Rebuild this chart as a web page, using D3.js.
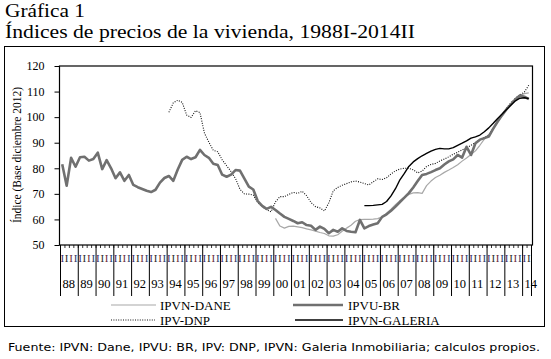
<!DOCTYPE html>
<html><head><meta charset="utf-8">
<script src="https://cdn.jsdelivr.net/npm/d3@7"></script>
<style>body{margin:0;background:#fff}svg{display:block}</style>
</head><body>
<svg id="c" width="551" height="359"></svg>
<script>
// ---- data ----
const yearLabels = ["88","89","90","91","92","93","94","95","96","97","98","99","00","01","02","03","04","05","06","07","08","09","10","11","12","13","14"];
const yTicks = [50,60,70,80,90,100,110,120];
const nQuarters = 106; // 1988Q1 .. 2014Q2
// IPVU-BR from 1988Q1
const ipvuBR = [81.6,73.2,84.1,80.6,84.3,84.5,83.0,83.6,86.1,79.7,83.2,80.0,76.1,78.4,75.1,77.4,73.5,72.6,71.9,71.2,70.7,71.6,74.4,76.2,77.0,75.1,79.5,83.3,84.5,83.6,84.3,87.2,85.2,84.1,81.8,81.3,77.5,76.7,77.5,79.3,79.1,76.0,72.8,71.7,67.2,65.3,64.1,64.9,63.7,62.3,61.0,60.2,59.4,58.5,58.9,57.8,57.5,55.9,57.2,56.3,54.6,55.9,55.2,56.5,55.5,55.2,55.0,59.8,56.5,57.4,58.0,58.5,61.0,62.0,63.4,65.0,66.8,68.5,70.3,72.5,75.0,77.4,77.8,78.5,79.3,80.0,81.5,82.7,83.5,85.2,84.2,88.4,85.2,89.8,91.2,91.8,92.4,95.5,98.3,100.8,103.1,105.0,107.0,108.5,108.0,107.0];
// IPV-DNP from 1994Q1 (index 24)
const dnpStart = 24;
const ipvDNP = [101.9,105.6,106.6,105.8,100.8,99.9,102.5,101.8,93.8,90.2,87.0,86.5,83.3,81.0,78.7,76.0,71.8,70.0,69.9,69.5,66.6,65.0,63.8,63.0,66.9,68.9,68.9,69.8,70.6,70.2,71.0,69.3,66.6,65.0,64.5,63.3,66.5,71.2,72.5,73.4,74.0,74.7,75.0,74.6,74.0,73.5,74.7,75.9,75.6,76.3,77.8,79.0,79.7,80.0,80.0,79.4,78.2,78.9,80.7,81.5,81.9,82.9,83.6,84.5,85.5,86.3,87.2,88.0,89.0,90.0,91.2,92.1,93.0,95.7,98.4,100.8,103.5,105.7,107.4,108.7,109.8,112.5];
// IPVN-DANE from 2000Q1 (index 48)
const daneStart = 48;
const ipvnDANE = [60.4,57.4,56.6,57.3,57.4,57.1,56.8,56.3,55.9,55.4,54.9,54.5,53.6,53.5,54.0,55.4,56.6,57.7,59.3,59.9,60.0,60.0,60.1,60.3,61.0,62.4,64.0,65.8,67.3,68.7,69.8,70.4,70.5,70.2,73.2,75.0,76.4,77.3,78.4,79.3,80.3,81.4,82.8,84.0,85.4,86.8,89.0,91.4,93.2,95.4,98.0,100.6,103.0,104.9,106.8,108.5,109.2,109.5];
// IPVN-GALERIA from 2005Q1 (index 68)
const galStart = 68;
const ipvnGAL = [65.4,65.4,65.5,65.7,65.9,67.0,69.2,72.0,75.5,78.0,80.7,82.5,83.8,84.9,85.8,86.7,87.4,87.8,87.6,87.6,88.1,89.0,89.8,90.7,91.8,92.3,93.0,94.3,95.8,97.6,99.5,101.2,103.0,104.7,106.4,107.4,107.6,107.3];
const seriesNames = ["IPVN-DANE","IPVU-BR","IPV-DNP","IPVN-GALERIA"];

// ---- drawing ----
const svg = d3.select("#c");
const serif = "'Liberation Serif','Times New Roman',serif";
const L = 59.5, R = 532.5, T = 66, B = 245;
const x = d3.scaleLinear().domain([0, nQuarters]).range([60, 531]);
const y = d3.scaleLinear().domain([50, 120]).range([B, T]);

function stretch(sel, target){
  sel.attr("textLength", target).attr("lengthAdjust","spacingAndGlyphs");
}

// outer box
svg.append("rect").attr("x",4.5).attr("y",46.5).attr("width",540).attr("height",280)
  .attr("fill","none").attr("stroke","#000").attr("stroke-width",1);

// titles
const t1 = svg.append("text").attr("x",5).attr("y",17).attr("font-family",serif).attr("font-size",18.5).text("Gráfica 1");
stretch(t1, 80);
const t2 = svg.append("text").attr("x",5).attr("y",37.5).attr("font-family",serif).attr("font-size",18.5).text("Índices de precios de la vivienda, 1988I-2014II");
stretch(t2, 410);

// plot frame
svg.append("rect").attr("x",L).attr("y",T).attr("width",R-L).attr("height",B-T)
  .attr("fill","none").attr("stroke","#000").attr("stroke-width",1.2);

// y axis
const ya = svg.append("g").attr("transform",`translate(${L},0)`)
  .call(d3.axisLeft(y).tickValues(yTicks).tickSize(5).tickPadding(10).tickFormat(d3.format("d")));
ya.attr("font-family",serif).attr("font-size",12);
ya.select(".domain").remove();
ya.selectAll("text").attr("fill","#000");
ya.selectAll("line").attr("stroke","#000");

const yt = svg.append("text").attr("transform","translate(21,155) rotate(-90)").attr("text-anchor","middle")
  .attr("font-family",serif).attr("font-size",12.5).text("Índice (Base diciembre 2012)");
stretch(yt, 136);

// x axis quarter ticks
const xa = svg.append("g").attr("transform",`translate(0,${B})`)
  .call(d3.axisBottom(x).tickValues(d3.range(0,nQuarters+1)).tickSize(3).tickFormat(""));
xa.select(".domain").remove();
xa.selectAll("line").attr("stroke","#000").attr("stroke-width",0.8);

// year separators
const yearIdx = d3.range(0, yearLabels.length);
svg.append("g").selectAll("line").data(yearIdx.concat([yearLabels.length])).join("line")
  .attr("x1",d=>Math.min(x(d*4),x(nQuarters))+0.5).attr("x2",d=>Math.min(x(d*4),x(nQuarters))+0.5)
  .attr("y1",B).attr("y2",296).attr("stroke","#000").attr("stroke-width",1);

// quarter roman marks
const qColors = ["#3b2a66","#2a2a2a","#6a2a3a","#2a3a6a"];
svg.append("g").selectAll("text").data(d3.range(0,nQuarters)).join("text")
  .attr("x",d=>x(d+0.5)).attr("y",262).attr("text-anchor","middle")
  .attr("font-family",serif).attr("font-size",11).attr("fill",d=>qColors[d%4]).text("I");

// year labels
svg.append("g").selectAll("text").data(yearIdx).join("text")
  .attr("x",d=>x(d*4)+2.5).attr("y",288).attr("font-family",serif).attr("font-size",12.5)
  .text(d=>yearLabels[d]);

// lines
const line = d3.line().x(d=>x(d.i+0.5)).y(d=>y(d.v));
const mk = (arr, start) => arr.map((v,k)=>({i:start+k, v}));
const styles = {
  "IPVN-DANE":   {data: mk(ipvnDANE, daneStart), stroke:"#a8a8a8", w:1.2, dash:null},
  "IPVU-BR":     {data: mk(ipvuBR, 0),           stroke:"#707070", w:2.6, dash:null},
  "IPV-DNP":     {data: mk(ipvDNP, dnpStart),    stroke:"#111",    w:1.1, dash:"1,1.4"},
  "IPVN-GALERIA":{data: mk(ipvnGAL, galStart),   stroke:"#000",    w:1.4, dash:null}
};
["IPVN-DANE","IPV-DNP","IPVU-BR","IPVN-GALERIA"].forEach(n=>{
  const s = styles[n];
  svg.append("path").attr("d", line(s.data)).attr("fill","none").attr("stroke",s.stroke)
    .attr("stroke-width",s.w).attr("stroke-dasharray",s.dash).attr("stroke-linejoin","round");
});

// legend
const legPos = [
  {n:"IPVN-DANE", x1:111, x2:156, y:305, tx:160},
  {n:"IPVU-BR", x1:293, x2:343, y:305, tx:348},
  {n:"IPV-DNP", x1:111, x2:155, y:320, tx:160},
  {n:"IPVN-GALERIA", x1:295, x2:343, y:320, tx:348}
];
legPos.forEach(p=>{
  const s = styles[p.n];
  svg.append("line").attr("x1",p.x1).attr("x2",p.x2).attr("y1",p.y).attr("y2",p.y)
    .attr("stroke",s.stroke).attr("stroke-width",s.w).attr("stroke-dasharray",s.dash);
  svg.append("text").attr("x",p.tx).attr("y",p.y+5).attr("font-family",serif).attr("font-size",13).text(p.n);
});

// footer
const ft = svg.append("text").attr("x",8).attr("y",351).attr("font-family","'DejaVu Sans',Verdana,sans-serif")
  .attr("font-size",11).text("Fuente: IPVN: Dane, IPVU: BR, IPV: DNP, IPVN: Galeria Inmobiliaria; calculos propios.");
stretch(ft, 532);
</script>
</body></html>
